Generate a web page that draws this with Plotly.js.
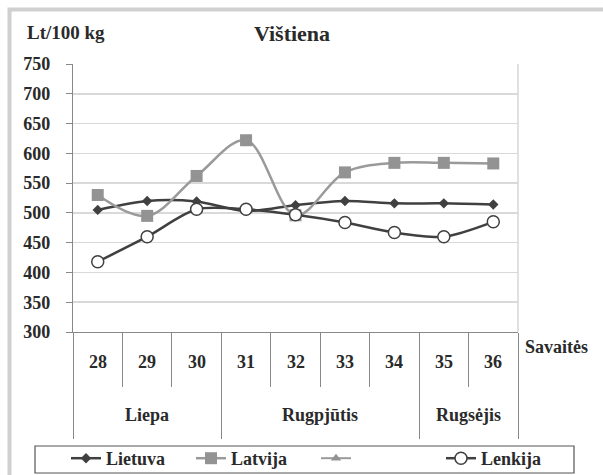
<!DOCTYPE html>
<html>
<head>
<meta charset="utf-8">
<script src="https://cdn.plot.ly/plotly-3.0.1.min.js"></script>
<style>html,body{margin:0;padding:0;background:#fff;}</style>
</head>
<body>
<div id="chart" style="width:603px;height:475px;"></div>
<script>
// ---- data ----
var weeks = [28, 29, 30, 31, 32, 33, 34, 35, 36];
var lietuva = [505, 520, 519, 503, 513, 520, 516, 516, 514];
var latvija = [530, 495, 562, 622, 496, 568, 584, 584, 583];
var seriesThird = [null, null, null, null, null, null, null, null, null];
var lenkija = [418, 460, 506, 506, 497, 484, 467, 460, 485];
var months = ['Liepa', 'Rugpjūtis', 'Rugsėjis'];
var monthFirstWeek = [28, 31, 35];
var monthLastWeek = [30, 34, 36];
var seriesNames = ['Lietuva', 'Latvija', ' ', 'Lenkija'];

// ---- layout helpers (pixel -> paper) ----
var L = 73, R = 518, T = 64, B = 332;
function px(xp) { return (xp - L) / (R - L); }
function py(yp) { return (B - yp) / (B - T); }

var FONT = 'Liberation Serif, Times New Roman, serif';
var TXT = '#2a2a2a';

var traces = [
  { x: weeks, y: lietuva, name: seriesNames[0], type: 'scatter', mode: 'lines+markers',
    line: { color: '#404040', width: 2.5, shape: 'spline', smoothing: 0.8 },
    marker: { symbol: 'diamond', size: 8, color: '#404040' } },
  { x: weeks, y: latvija, name: seriesNames[1], type: 'scatter', mode: 'lines+markers',
    line: { color: '#9a9a9a', width: 2.5, shape: 'spline', smoothing: 1 },
    marker: { symbol: 'square', size: 12, color: '#939393' } },
  { x: weeks, y: seriesThird, name: seriesNames[2], type: 'scatter', mode: 'lines+markers', xaxis: 'x2',
    line: { color: '#9a9a9a', width: 2 },
    marker: { symbol: 'triangle-up', size: 9, color: '#939393' } },
  { x: weeks, y: lenkija, name: seriesNames[3], type: 'scatter', mode: 'lines+markers',
    line: { color: '#404040', width: 2.5, shape: 'spline', smoothing: 0.8 },
    marker: { symbol: 'circle', size: 12, color: '#ffffff', line: { color: '#404040', width: 1.5 } } }
];

var xmin = weeks[0] - 0.5, xmax = weeks[weeks.length - 1] + 0.5;
var weekBounds = weeks.map(function (w) { return w - 0.5; }).concat([xmax]);
var monthBounds = monthFirstWeek.map(function (w) { return w - 0.5; }).concat([monthLastWeek[monthLastWeek.length - 1] + 0.5]);

var annotations = [];
weeks.forEach(function (w) {
  annotations.push({ x: w, xref: 'x', y: py(362), yref: 'paper', text: String(w), showarrow: false,
    xanchor: 'center', yanchor: 'middle', font: { family: FONT, size: 18, color: TXT, weight: 'bold' } });
});
months.forEach(function (m, i) {
  annotations.push({ x: (monthFirstWeek[i] + monthLastWeek[i]) / 2, xref: 'x', y: py(415), yref: 'paper', text: m,
    showarrow: false, xanchor: 'center', yanchor: 'middle', font: { family: FONT, size: 18, color: TXT, weight: 'bold' } });
});
annotations.push({ x: px(523), xref: 'paper', y: py(347), yref: 'paper', text: 'Savaitės', showarrow: false,
  xanchor: 'left', yanchor: 'middle', font: { family: FONT, size: 18, color: TXT, weight: 'bold' } });
annotations.push({ x: px(25), xref: 'paper', y: py(32), yref: 'paper', text: 'Lt/100 kg', showarrow: false,
  xanchor: 'left', yanchor: 'middle', font: { family: FONT, size: 19, color: TXT, weight: 'bold' } });

var shapes = [
  // outer frame
  { type: 'rect', xref: 'paper', yref: 'paper', x0: px(9.5), x1: px(640), y0: py(520), y1: py(9.5),
    line: { color: '#d0d0d0', width: 4 }, layer: 'below' },
  // plot right border
  { type: 'line', xref: 'paper', yref: 'paper', x0: 1, x1: 1, y0: 0, y1: 1, line: { color: '#d6d6d6', width: 1.5 } },
  // legend frame
  { type: 'rect', xref: 'paper', yref: 'paper', x0: px(35), x1: px(574), y0: py(473), y1: py(446),
    line: { color: '#555555', width: 1.2 } }
];

var layout = {
  width: 603, height: 475,
  margin: { l: L, r: 603 - R, t: T, b: 475 - B, pad: 0, autoexpand: false },
  paper_bgcolor: '#ffffff', plot_bgcolor: '#ffffff',
  font: { family: FONT, size: 18, color: TXT },
  title: { text: 'Vištiena', x: px(292), xref: 'paper', xanchor: 'center', y: 1 - 33 / 475, yref: 'container', yanchor: 'middle',
    font: { family: FONT, size: 22, color: TXT, weight: 'bold' } },
  showlegend: true,
  legend: { orientation: 'h', x: px(66), xanchor: 'left', y: py(440), yanchor: 'top', yref: 'paper',
    bgcolor: 'rgba(0,0,0,0)', borderwidth: 0, entrywidth: 80, entrywidthmode: 'pixels',
    font: { family: FONT, size: 18, color: TXT, weight: 'bold' } },
  xaxis: { type: 'linear', range: [xmin, xmax], showgrid: false, zeroline: false,
    showline: true, linecolor: '#888888', linewidth: 1.2,
    tickmode: 'array', tickvals: weekBounds, ticks: 'outside', ticklen: 54, tickcolor: '#888888', tickwidth: 1,
    showticklabels: false },
  xaxis2: { type: 'linear', range: [xmin, xmax], overlaying: 'x', anchor: 'y', side: 'bottom',
    showgrid: false, zeroline: false, showline: false,
    tickmode: 'array', tickvals: monthBounds, ticks: 'outside', ticklen: 106, tickcolor: '#888888', tickwidth: 1,
    showticklabels: false },
  yaxis: { range: [300, 750], dtick: 50, tick0: 300, showgrid: true, gridcolor: '#d9d9d9', gridwidth: 1.5,
    zeroline: false, showline: true, linecolor: '#888888', linewidth: 1.2,
    ticks: 'outside', ticklen: 6, tickcolor: '#888888', ticklabelstandoff: 12,
    tickfont: { family: FONT, size: 18, color: TXT, weight: 'bold' } },
  annotations: annotations,
  shapes: shapes
};

Plotly.newPlot('chart', traces, layout, { displayModeBar: false, staticPlot: true });
</script>
</body>
</html>
